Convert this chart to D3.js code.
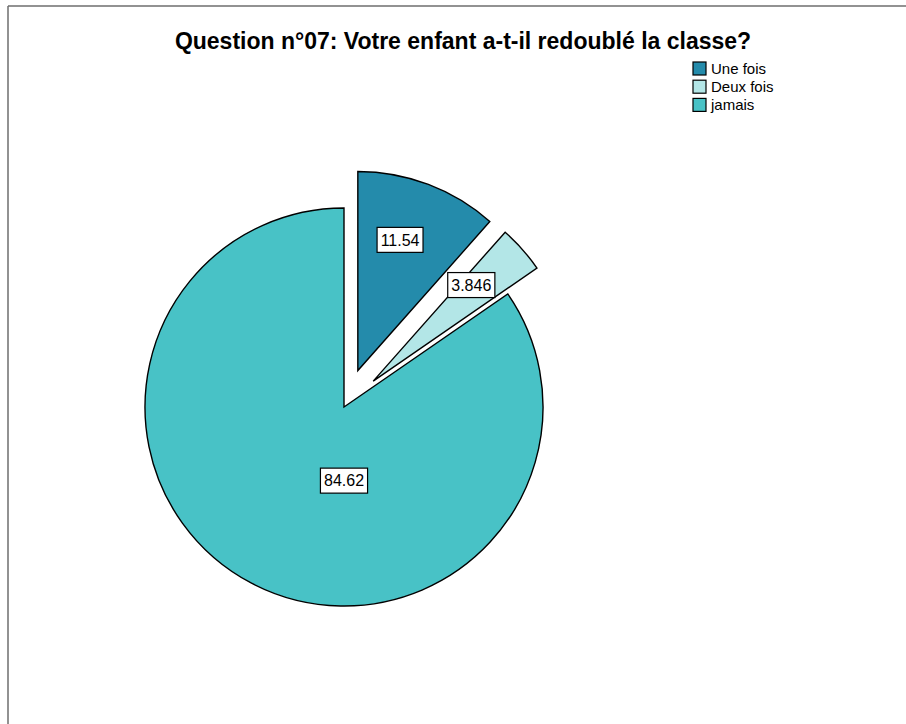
<!DOCTYPE html>
<html>
<head>
<meta charset="utf-8">
<script src="https://cdn.jsdelivr.net/npm/d3@7/dist/d3.min.js"></script>
<style>
  html, body { margin: 0; padding: 0; background: #fff; }
  svg { display: block; }
</style>
</head>
<body>
<svg id="chart" width="906" height="724"></svg>
<script>
// ---- data ----
const categories = ["Une fois", "Deux fois", "jamais"];
const values = [11.54, 3.846, 84.62];
const valueLabels = ["11.54", "3.846", "84.62"];
const exploded = [true, true, false];
const colors = ["#248BAB", "#B3E6E7", "#48C2C6"];
const title = "Question n°07: Votre enfant a-t-il redoublé la classe?";

// ---- layout ----
const W = 906, H = 724;
const cx = 344, cy = 407, R = 199, explodeDist = 39;
const font = "'Liberation Sans', Arial, sans-serif";

const svg = d3.select("#chart");

// frame (top and left edges visible)
svg.append("line").attr("x1", 8).attr("y1", 6).attr("x2", W).attr("y2", 6)
  .attr("stroke", "#6e6e6e").attr("stroke-width", 1.5);
svg.append("line").attr("x1", 8).attr("y1", 6).attr("x2", 8).attr("y2", H)
  .attr("stroke", "#6e6e6e").attr("stroke-width", 1.5);

// title
svg.append("text")
  .attr("x", 463).attr("y", 49)
  .attr("text-anchor", "middle")
  .attr("font-family", font).attr("font-weight", "bold").attr("font-size", 23)
  .attr("fill", "#000")
  .text(title);

// pie
const data = categories.map((c, i) => ({ cat: c, value: values[i], label: valueLabels[i], explode: exploded[i], color: colors[i] }));
const pie = d3.pie().value(d => d.value).sort(null).startAngle(0).endAngle(2 * Math.PI);
const arcs = pie(data);
const arc = d3.arc().innerRadius(0).outerRadius(R);

const g = svg.append("g").attr("transform", `translate(${cx},${cy})`);

function offsetOf(a) {
  if (!a.data.explode) return [0, 0];
  const m = (a.startAngle + a.endAngle) / 2;
  return [explodeDist * Math.sin(m), -explodeDist * Math.cos(m)];
}

g.selectAll("path.slice").data(arcs).enter().append("path")
  .attr("class", "slice")
  .attr("transform", d => { const o = offsetOf(d); return `translate(${o[0]},${o[1]})`; })
  .attr("d", arc)
  .attr("fill", d => d.data.color)
  .attr("stroke", "#000").attr("stroke-width", 1.4)
  .attr("stroke-linejoin", "miter");

// value labels
function labelPos(a) {
  const o = offsetOf(a);
  const span = a.endAngle - a.startAngle;
  let ang, rr;
  if (span > Math.PI) { ang = Math.PI; rr = 0.37 * R; }
  else { ang = (a.startAngle + a.endAngle) / 2 - 0.05; rr = 0.69 * R; }
  return [o[0] + rr * Math.sin(ang), o[1] - rr * Math.cos(ang)];
}

const lbl = g.selectAll("g.lbl").data(arcs).enter().append("g")
  .attr("class", "lbl")
  .attr("transform", d => { const p = labelPos(d); return `translate(${p[0]},${p[1]})`; });

lbl.each(function(d) {
  const gg = d3.select(this);
  const t = gg.append("text")
    .attr("text-anchor", "middle").attr("dy", "0.36em")
    .attr("font-family", font).attr("font-size", 16).attr("fill", "#000")
    .text(d.data.label);
  const bb = t.node().getBBox();
  gg.insert("rect", "text")
    .attr("x", -bb.width / 2 - 3.5).attr("y", -12.5)
    .attr("width", bb.width + 7).attr("height", 25)
    .attr("fill", "#fff").attr("stroke", "#000").attr("stroke-width", 1.2);
});

// legend
const leg = svg.append("g").attr("transform", "translate(693,62)");
const li = leg.selectAll("g").data(data).enter().append("g")
  .attr("transform", (d, i) => `translate(0,${i * 18.2})`);
li.append("rect").attr("x", 0).attr("y", 0).attr("width", 13).attr("height", 13)
  .attr("fill", d => d.color).attr("stroke", "#000").attr("stroke-width", 1.2);
li.append("text").attr("x", 18).attr("y", 11.5)
  .attr("font-family", font).attr("font-size", 15).attr("fill", "#000")
  .text(d => d.cat);
</script>
</body>
</html>
